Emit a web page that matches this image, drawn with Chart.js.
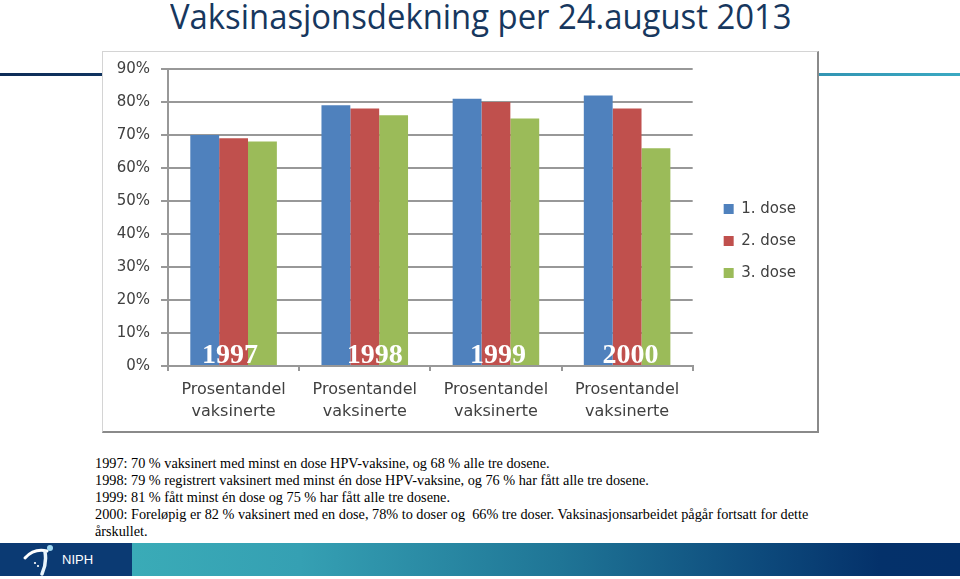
<!DOCTYPE html>
<html>
<head>
<meta charset="utf-8">
<script src="https://cdn.jsdelivr.net/npm/chart.js@4.4.1/dist/chart.umd.min.js"></script>
<style>
  html, body { margin: 0; padding: 0; }
  body { width: 960px; height: 579px; position: relative; overflow: hidden; background: #ffffff; }
  #rule { position: absolute; left: 0; top: 73px; width: 960px; height: 3px;
          background: linear-gradient(to right, #0d2c57 0%, #123a68 20%, #2a7fa3 70%, #3aa9c2 100%); }
  #title { position: absolute; left: 170px; top: -4px; white-space: nowrap;
           font-family: "Open Sans", sans-serif; font-size: 35px; line-height: 40px; color: #17375e;
           transform-origin: 0 0; }
  #box { position: absolute; left: 102px; top: 51px; width: 717px; height: 382px; box-sizing: border-box;
         background: #fff; border-top: 1px solid #d4d4d4; border-left: 1px solid #d4d4d4;
         border-right: 2px solid #8a8a8a; border-bottom: 2px solid #8a8a8a; }
  #chart { position: absolute; left: 1px; top: 0px; }
  #notes { position: absolute; left: 95px; top: 454.5px; font-family: "Liberation Serif", "Times New Roman", serif;
           font-size: 14.25px; line-height: 17.2px; color: #000; white-space: nowrap; }
  #footer { position: absolute; left: 0; top: 543px; width: 960px; height: 33px;
            background: linear-gradient(to right, #0b3a73 0px, #0b3a73 132px, #3aabb7 132px, #35a0b3 300px, #1f7596 560px, #0d4a7c 760px, #04316a 880px, #04306a 960px); }
  #niph { position: absolute; left: 62px; top: 9px; font-family: "Liberation Sans", Arial, sans-serif;
          font-size: 13px; color: #ffffff; }
  #logo { position: absolute; left: 22px; top: 0; }
</style>
</head>
<body>
<div id="rule"></div>
<div id="title">Vaksinasjonsdekning per 24.august 2013</div>
<div id="box"><canvas id="chart" width="712" height="378"></canvas></div>
<div id="notes">
1997: 70 % vaksinert med minst en dose HPV-vaksine, og 68 % alle tre dosene.<br>
1998: 79 % registrert vaksinert med minst én dose HPV-vaksine, og 76 % har fått alle tre dosene.<br>
1999: 81 % fått minst én dose og 75 % har fått alle tre dosene.<br>
2000: Foreløpig er 82 % vaksinert med en dose, 78% to doser og&nbsp; 66% tre doser. Vaksinasjonsarbeidet pågår fortsatt for dette<br>
årskullet.
</div>
<div id="footer">
  <svg id="logo" width="40" height="33" viewBox="0 0 40 33">
    <path d="M3,15 Q12,5 25,8" stroke="#ffffff" stroke-width="3" fill="none" stroke-linecap="round"/>
    <path d="M23,9 Q25,20 20,31" stroke="#e8f4fb" stroke-width="3.5" fill="none" stroke-linecap="round"/>
    <circle cx="28" cy="5" r="3" fill="#9fd8f2"/>
    <circle cx="13" cy="20" r="1.1" fill="#ffffff"/>
    <circle cx="16" cy="23" r="1.1" fill="#ffffff"/>
  </svg>
  <div id="niph">NIPH</div>
</div>
<script>
// ---- data ----
const categoryLabels = [
  ['Prosentandel', 'vaksinerte'],
  ['Prosentandel', 'vaksinerte'],
  ['Prosentandel', 'vaksinerte'],
  ['Prosentandel', 'vaksinerte']
];
const cohortYears = ['1997', '1998', '1999', '2000'];
const seriesNames = ['1. dose', '2. dose', '3. dose'];
const dose1 = [70, 79, 81, 82];
const dose2 = [69, 78, 80, 78];
const dose3 = [68, 76, 75, 66];
const yMax = 90;
const yStep = 10;

// ---- layout / style constants ----
const yearLabelOffsets = [-3.5, 10, 2, 3.5];
const seriesColors = ['#4f81bd', '#c0504d', '#9bbb59'];
const axisFont = 'DejaVu Sans';
const gridColor = '#989898';

// fit title width
(function () {
  const t = document.getElementById('title');
  const w = t.scrollWidth;
  t.style.transform = 'scaleX(' + (622 / w) + ')';
})();

const yearLabelPlugin = {
  id: 'yearLabels',
  afterDatasetsDraw(chart) {
    const { ctx, scales: { x, y } } = chart;
    ctx.save();
    ctx.font = 'bold 28px "Liberation Serif", "Times New Roman", serif';
    ctx.fillStyle = '#ffffff';
    ctx.textAlign = 'center';
    ctx.textBaseline = 'alphabetic';
    cohortYears.forEach((yr, i) => {
      ctx.fillText(yr, x.getPixelForValue(i) + yearLabelOffsets[i], y.getPixelForValue(0) - 3);
    });
    ctx.restore();
  }
};

const seriesValues = [dose1, dose2, dose3];

new Chart(document.getElementById('chart'), {
  type: 'bar',
  data: {
    labels: categoryLabels,
    datasets: seriesNames.map((name, i) => ({
      label: name,
      data: seriesValues[i],
      backgroundColor: seriesColors[i],
      borderWidth: 0,
      categoryPercentage: 0.66,
      barPercentage: 1.0
    }))
  },
  options: {
    responsive: false,
    animation: false,
    layout: { padding: { top: 0, left: 0, right: 10, bottom: 0 } },
    plugins: {
      tooltip: { enabled: false },
      legend: {
        position: 'right',
        align: 'center',
        labels: {
          boxWidth: 10,
          boxHeight: 10,
          padding: 17,
          color: '#404040',
          font: { family: axisFont, size: 15 }
        }
      }
    },
    scales: {
      x: {
        grid: { display: true, drawOnChartArea: false, drawTicks: true, tickLength: 5, color: gridColor, lineWidth: 2 },
        border: { display: true, color: gridColor, width: 2 },
        ticks: { color: '#404040', font: { family: axisFont, size: 16, lineHeight: 1.375 }, padding: 8, maxRotation: 0, autoSkip: false },
        afterFit(s) { s.height = 64; }
      },
      y: {
        min: 0,
        max: yMax,
        grid: { color: gridColor, lineWidth: 2, tickLength: 7 },
        border: { display: true, color: gridColor, width: 2 },
        ticks: { stepSize: yStep, callback: v => v + '%', color: '#404040', font: { family: axisFont, size: 15, lineHeight: 0.8 }, padding: 11 },
        afterFit(s) { s.width = 64; }
      },
      spacerTop: {
        type: 'linear',
        axis: 'x',
        position: 'top',
        display: true,
        grid: { display: false, drawTicks: false },
        border: { display: false },
        ticks: { display: false },
        afterFit(s) { s.height = 17; }
      },
      spacerRight: {
        type: 'linear',
        axis: 'y',
        position: 'right',
        display: true,
        grid: { display: false, drawTicks: false },
        border: { display: false },
        ticks: { display: false },
        afterFit(s) { s.width = 14; }
      }
    }
  },
  plugins: [yearLabelPlugin]
});
</script>
</body>
</html>
